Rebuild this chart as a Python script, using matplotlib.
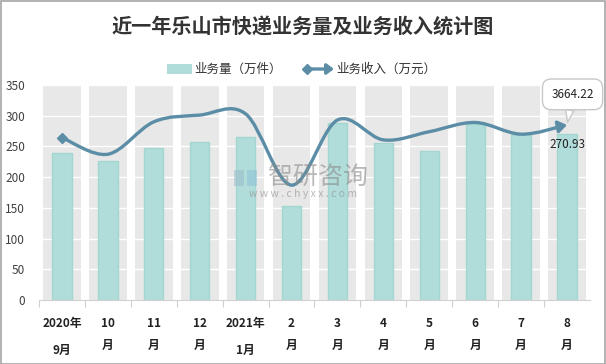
import numpy as np
import matplotlib
matplotlib.use("Agg")
import matplotlib.pyplot as plt
from matplotlib.path import Path
from matplotlib.patches import FancyArrowPatch, Rectangle
from matplotlib.lines import Line2D

plt.rcParams['font.family'] = ['Noto Sans CJK SC', 'DejaVu Sans']

title = "近一年乐山市快递业务量及业务收入统计图"
categories = ["2020年\n9月", "10\n月", "11\n月", "12\n月", "2021年\n1月", "2\n月",
              "3\n月", "4\n月", "5\n月", "6\n月", "7\n月", "8\n月"]
volume = [239, 226, 248, 257, 266, 153, 288, 255, 242, 287, 268, 270.93]        # 万件
revenue = [3399, 3051, 3729, 3870, 3896, 2404, 3767, 3351, 3523, 3716, 3471, 3664.22]  # 万元
bar_name = "业务量（万件）"
line_name = "业务收入（万元）"

W, H = 606, 364
fig = plt.figure(figsize=(W / 100, H / 100), dpi=100)
fig.patch.set_facecolor("white")
fig.add_artist(Rectangle((0.5 / W, 0.5 / H), 1 - 1.5 / W, 1 - 1.5 / H, transform=fig.transFigure,
                         fill=False, ec="#a6a6a6", lw=1.2))

ax = fig.add_axes([39 / W, 1 - 300 / H, (590 - 39) / W, (300 - 85) / H])
x = np.arange(len(categories))
ymax = 350
ax.set_xlim(-0.5, len(categories) - 0.5)
ax.set_ylim(0, ymax)

# gray column bands
ax.bar(x, [ymax] * len(x), width=0.82, color="#e8e8e8", zorder=0)
for yv in range(50, ymax + 1, 50):
    ax.axhline(yv, color="white", lw=1.0, zorder=1)
ax.bar(x, volume, width=0.42, color="#b0ddd9", edgecolor="#a3d6d1", lw=1, zorder=2)

for s in ["left", "right", "top"]:
    ax.spines[s].set_visible(False)
ax.spines["bottom"].set_color("#d0d0d0")
ax.set_yticks(range(0, ymax + 1, 50))
ax.tick_params(axis="y", length=0, labelsize=8.5, labelcolor="#404040", pad=10)
ax.set_xticks(x - 0.5, minor=False)
ax.set_xticklabels([])
ax.tick_params(axis="x", length=5, color="#d0d0d0", direction="out")
for i, lab in enumerate(categories):
    ls = 2.35 if "年" in lab else 1.85
    ax.text(i, -28, lab, ha="center", va="top", fontsize=8.5, fontweight="bold",
            color="#222222", linespacing=ls, transform=ax.transData, clip_on=False)

# watermark
fig.text(318 / W, 1 - 177 / H, "智研咨询", fontsize=18, color="#8c8c8c", alpha=0.6,
         ha="center", va="center")
fig.text(303 / W, 1 - 194 / H, "w w w . c h y x x . c o m", fontsize=7.5, color="#8c8c8c",
         alpha=0.6, ha="center", va="center")
fig.add_artist(Rectangle((234 / W, 1 - 186 / H), 10 / W, 16 / H, transform=fig.transFigure,
                         fc="#9bbccc", ec="none", alpha=0.55))
fig.add_artist(Rectangle((247 / W, 1 - 186 / H), 10 / W, 16 / H, transform=fig.transFigure,
                         fc="#8fc0d6", ec="none", alpha=0.55))

# revenue line (smoothed) on hidden secondary axis
ax2 = ax.twinx()
ax2.set_ylim(0, 4500)
ax2.axis("off")
pts = np.column_stack([x, revenue]).astype(float)
n = len(pts)
verts = [pts[0]]
codes = [Path.MOVETO]
for i in range(n - 1):
    p0 = pts[i - 1] if i > 0 else pts[i]
    p1 = pts[i]
    p2 = pts[i + 1]
    p3 = pts[i + 2] if i + 2 < n else pts[i + 1]
    c1 = p1 + (p2 - p0) / 6
    c2 = p2 - (p3 - p1) / 6
    verts += [c1, c2, p2]
    codes += [Path.CURVE4] * 3
line_color = "#5b8ea6"
arrow = FancyArrowPatch(path=Path(verts, codes), arrowstyle="-|>,head_length=5,head_width=3.5",
                        color=line_color, lw=2.4, transform=ax2.transData, zorder=5,
                        shrinkA=0, shrinkB=0)
ax2.add_patch(arrow)
ax2.plot([x[0]], [revenue[0]], marker="D", ms=5.5, color=line_color, zorder=6)

# labels
ax2.annotate(f"{revenue[-1]:.2f}", xy=(x[-1], revenue[-1]), xytext=(x[-1] + 0.12, revenue[-1] + 640),
             ha="center", va="center", fontsize=8.5, color="#222222",
             bbox=dict(boxstyle="round,pad=0.75", fc="white", ec="#c8c8c8", lw=1),
             arrowprops=dict(arrowstyle="wedge,tail_width=0.7", fc="white", ec="#c8c8c8",
                             lw=1, shrinkA=0, shrinkB=2), zorder=7)
ax.text(x[-1] + 0.02, volume[-1] - 17, f"{volume[-1]:.2f}", ha="center", va="center",
        fontsize=8.5, color="#222222", zorder=7)

# title
fig.text(303 / W, 1 - 27 / H, title, ha="center", va="center", fontsize=14.5,
         fontweight="bold", color="#333333")

# manual legend
ly = 1 - 69 / H
fig.add_artist(Rectangle((167 / W, ly - 5 / H), 25 / W, 10 / H, transform=fig.transFigure,
                         fc="#b0ddd9", ec="none"))
fig.text(194 / W, ly, bar_name, ha="left", va="center", fontsize=9, color="#333333")
fig.add_artist(FancyArrowPatch((305 / W, ly), (334 / W, ly), transform=fig.transFigure,
                               arrowstyle="-|>,head_length=4,head_width=3", color=line_color,
                               lw=2.4, shrinkA=0, shrinkB=0))
fig.add_artist(Line2D([307 / W], [ly], transform=fig.transFigure, marker="D", ms=5,
                      color=line_color))
fig.text(336 / W, ly, line_name, ha="left", va="center", fontsize=9, color="#333333")

fig.savefig("out.png", dpi=100)
